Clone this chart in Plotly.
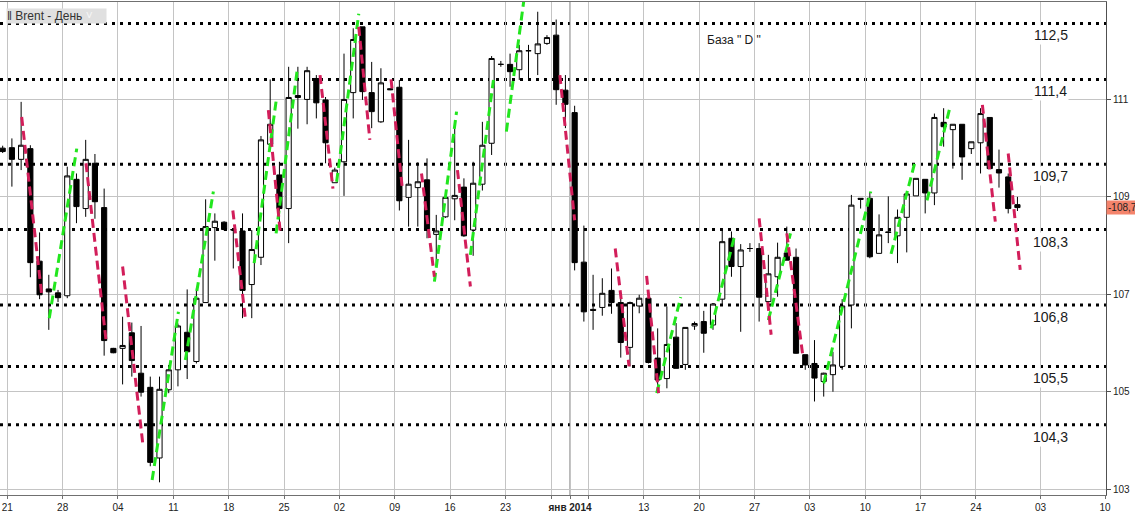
"""
Brent daily candlestick chart with projection segments and "D" base levels.
"""

import plotly.graph_objects as go

# --- data -------------------------------------------------------------------
# one bar per trading session (broker feed with short Sunday sessions)
OPEN = [
    110.00, 110.01, 109.77, 109.99, 107.68, 107.11, 107.03, 106.97, 109.36, 108.76,
    109.69, 108.78, 105.89, 105.89, 106.21, 105.38, 105.09, 103.64, 105.04, 105.45,
    106.22, 105.62, 106.83, 108.37, 108.48, 108.33, 108.30, 107.20, 107.76, 110.08,
    109.45, 108.76, 111.08, 111.00, 111.43, 110.99, 109.29, 109.72, 111.14, 112.49,
    111.14, 110.54, 111.22, 111.25, 108.99, 109.19, 109.35, 108.23, 108.59, 108.96,
    109.20, 108.32, 109.26, 110.10, 111.72, 111.72, 111.61, 112.00, 111.94, 112.15,
    112.32, 111.19, 110.73, 107.66, 106.69, 106.73, 107.08, 106.83, 105.91, 106.76,
    106.92, 105.69, 105.27, 106.12, 105.56, 106.35, 106.44, 106.37, 106.90, 108.15,
    107.57, 107.94, 107.94, 106.85, 107.36, 107.85, 107.76, 105.76, 105.58, 105.21,
    105.35, 105.52, 106.78, 108.97, 108.97, 107.84, 108.28, 108.20, 108.58, 109.02,
    109.36, 109.08, 110.53, 110.38, 110.49, 109.99, 110.11, 110.63, 109.56, 109.41,
    108.84,
]
HIGH = [
    110.05, 110.20, 110.95, 110.06, 108.27, 107.40, 107.09, 109.62, 109.48, 110.17,
    109.88, 109.17, 105.90, 106.54, 106.42, 106.35, 105.31, 105.31, 105.52, 106.40,
    107.10, 107.12, 108.95, 108.66, 108.50, 108.35, 108.66, 108.32, 110.25, 111.41,
    109.72, 111.67, 111.67, 111.67, 111.50, 111.05, 109.60, 111.94, 112.46, 112.49,
    111.77, 111.64, 111.23, 111.40, 110.17, 109.71, 109.79, 108.63, 109.00, 110.40,
    109.38, 109.72, 110.54, 111.89, 111.79, 111.94, 112.12, 112.12, 112.80, 112.32,
    112.64, 111.50, 110.87, 108.41, 107.40, 107.33, 107.53, 106.95, 106.85, 106.99,
    106.93, 106.30, 106.75, 106.41, 106.32, 106.44, 106.66, 106.82, 108.32, 108.29,
    108.03, 108.05, 108.05, 107.81, 108.06, 108.39, 107.94, 105.76, 106.06, 105.39,
    105.82, 106.90, 109.04, 108.97, 109.10, 108.64, 109.01, 108.74, 109.06, 109.38,
    109.36, 110.71, 110.82, 110.49, 110.49, 110.13, 110.82, 110.63, 109.97, 109.48,
    109.00,
]
LOW = [
    109.90, 109.21, 109.55, 107.35, 106.90, 106.27, 106.84, 106.92, 108.46, 108.59,
    108.55, 105.74, 105.79, 105.15, 105.31, 104.90, 103.47, 103.14, 104.97, 105.11,
    105.26, 105.58, 106.83, 107.69, 108.31, 107.53, 106.51, 106.51, 107.60, 110.08,
    108.32, 108.05, 110.40, 110.49, 110.61, 109.69, 109.29, 109.02, 110.61, 110.99,
    110.41, 110.52, 111.19, 108.72, 108.39, 108.39, 108.15, 107.60, 108.57, 108.52,
    108.18, 107.79, 109.13, 109.86, 111.67, 111.26, 111.40, 111.43, 111.50, 112.12,
    110.89, 110.41, 107.49, 106.44, 106.27, 106.56, 106.60, 105.70, 105.52, 106.61,
    105.58, 105.11, 105.07, 105.48, 105.45, 106.27, 105.80, 106.27, 106.78, 107.36,
    106.23, 107.87, 106.44, 106.80, 106.95, 107.70, 105.78, 105.45, 104.80, 104.90,
    105.00, 105.45, 106.30, 108.76, 107.74, 107.84, 108.05, 107.64, 107.86, 109.02,
    108.66, 108.83, 110.03, 109.58, 109.35, 109.88, 109.48, 109.58, 109.19, 108.66,
    108.71,
]
CLOSE = [
    109.93, 109.77, 110.06, 107.65, 106.99, 107.05, 106.93, 109.43, 108.80, 109.77,
    108.90, 106.05, 105.80, 105.95, 105.64, 104.99, 103.55, 105.05, 105.45, 106.35,
    105.82, 106.92, 108.39, 108.50, 108.33, 108.32, 107.08, 107.92, 110.17, 110.49,
    108.76, 111.04, 111.04, 111.59, 110.93, 110.11, 109.55, 111.00, 112.23, 111.16,
    110.75, 111.34, 111.20, 108.92, 109.26, 109.31, 108.32, 108.30, 108.99, 109.03,
    108.20, 109.28, 110.06, 111.84, 111.72, 111.57, 112.00, 112.00, 112.14, 112.27,
    111.20, 110.90, 107.65, 106.64, 106.67, 107.02, 106.83, 106.01, 106.83, 106.92,
    105.60, 105.24, 105.97, 105.48, 106.32, 106.40, 106.20, 106.80, 108.08, 107.57,
    107.91, 107.94, 106.94, 107.42, 107.76, 107.70, 105.79, 105.55, 105.28, 105.38,
    105.55, 106.76, 108.83, 108.95, 107.77, 108.22, 108.27, 108.58, 109.06, 109.38,
    109.08, 110.63, 110.44, 110.49, 109.82, 110.13, 110.71, 109.58, 109.49, 108.76,
    108.78,
]
LAST_PRICE = 108.78

# projection segments (bar index, price)
UP_X0 = [5.05, 16.2, 19.8, 27.26, 29.64, 36.2, 46.8, 50.7, 54.6, 70.9, 76.8, 83.0, 89.0, 96.3, 100.2]
UP_Y0 = [106.51, 103.19, 105.65, 107.64, 108.25, 109.31, 107.26, 107.81, 110.34, 104.97, 106.30, 106.47, 105.17, 107.83, 108.93]
UP_X1 = [8.03, 19.05, 22.84, 29.7, 31.95, 38.6, 49.2, 53.2, 56.5, 73.5, 79.3, 85.4, 94.1, 98.95, 102.7]
UP_Y1 = [109.99, 106.64, 109.11, 111.05, 111.64, 112.76, 110.75, 111.40, 113.04, 106.94, 108.17, 108.25, 109.11, 109.76, 110.85]

DN_X0 = [2.06, 9.03, 13.0, 24.95, 28.8, 34.4, 38.6, 42.1, 45.4, 49.3, 60.4, 66.4, 69.8, 82.0, 85.0, 106.2, 109.0]
DN_Y0 = [110.64, 109.69, 107.57, 108.72, 110.78, 111.50, 112.49, 111.41, 109.48, 109.55, 111.50, 107.94, 107.38, 108.56, 108.25, 110.89, 109.89]
DN_X1 = [4.23, 11.2, 15.2, 26.3, 30.1, 35.8, 39.8, 43.3, 46.8, 50.7, 62.0, 67.9, 71.1, 83.3, 86.7, 107.6, 110.3]
DN_Y1 = [106.99, 106.06, 103.91, 106.51, 108.25, 109.17, 110.17, 109.21, 107.36, 107.16, 108.52, 105.52, 104.97, 106.17, 105.79, 108.49, 107.50]

# "D" base levels (drawn position) and their printed labels
LEVELS = [112.56, 111.41, 109.67, 108.33, 106.78, 105.52, 104.32]
LEVEL_LABELS = ["112,5", "111,4", "109,7", "108,3", "106,8", "105,5", "104,3"]

# weekly grid (Mondays), year change, future weeks
TICK_POS = [0.5, 6.5, 12.5, 18.5, 24.5, 30.5, 36.5, 42.5, 48.5, 54.5, 59.5, 61.5,
            63.5, 69.5, 75.5, 81.5, 87.5, 93.5, 99.5, 105.5, 112.5, 119.5]
TICK_TEXT = ["21", "28", "04", "11", "18", "25", "02", "09", "16", "23", "", "<b>янв 2014</b>",
             "", "13", "20", "27", "03", "10", "17", "24", "03", "10"]
YEAR_BREAK = 61.5
PRICE_TICKS = [103, 105, 107, 109, 111]

X_RANGE = [-0.29, 119.6]
Y_RANGE = [102.88, 113.0]


def segments(x0, y0, x1, y1):
    xs, ys = [], []
    for a, b, c, d in zip(x0, y0, x1, y1):
        xs += [a, c, None]
        ys += [b, d, None]
    return xs, ys


bars = list(range(len(OPEN)))

fig = go.Figure()

fig.add_trace(go.Candlestick(
    x=bars, open=OPEN, high=HIGH, low=LOW, close=CLOSE,
    increasing={"fillcolor": "#ffffff", "line": {"color": "#000000", "width": 1}},
    decreasing={"fillcolor": "#000000", "line": {"color": "#000000", "width": 1}},
    whiskerwidth=0,
    showlegend=False,
))

ux, uy = segments(UP_X0, UP_Y0, UP_X1, UP_Y1)
fig.add_trace(go.Scatter(
    x=ux, y=uy, mode="lines", showlegend=False,
    line={"color": "#22e61e", "width": 3, "dash": "9px,5px"},
))
dx, dy = segments(DN_X0, DN_Y0, DN_X1, DN_Y1)
fig.add_trace(go.Scatter(
    x=dx, y=dy, mode="lines", showlegend=False,
    line={"color": "#d21e5a", "width": 3, "dash": "9px,5px"},
))

# dotted base levels with their labels (labels sit on a white box)
for lv, txt in zip(LEVELS, LEVEL_LABELS):
    fig.add_hline(y=lv, line={"color": "#000000", "width": 3, "dash": "3px,5px"}, layer="below")
    fig.add_annotation(
        x=113.6, y=lv, text=txt, showarrow=False, yshift=-12, bgcolor="#ffffff", borderpad=1,
        font={"family": "Liberation Sans, Arial", "size": 14, "color": "#1a1a1a"},
    )

fig.add_vline(x=YEAR_BREAK, line={"color": "#707070", "width": 1}, layer="below")

fig.add_annotation(
    xref="paper", yref="paper", x=0.664, y=0.923, xanchor="center", yanchor="middle",
    text='База " D "', showarrow=False,
    font={"family": "Liberation Sans, Arial", "size": 12, "color": "#1a1a1a"},
)
fig.add_annotation(
    xref="paper", yref="paper", x=0.0055, y=0.988, xanchor="left", yanchor="top",
    text="‖ Brent - День <span style='color:#f6f6f6'>˅</span>", showarrow=False,
    bgcolor="#e0e0e0", borderpad=0, width=99, height=14, align="left",
    font={"family": "Liberation Sans, Arial", "size": 12, "color": "#333333"},
)
fig.add_annotation(
    xref="paper", x=1.0, y=LAST_PRICE, xanchor="left", text=f"-{LAST_PRICE:.2f}".replace(".", ","),
    showarrow=False, bgcolor="#f4846c", borderpad=1,
    font={"family": "Liberation Sans, Arial", "size": 10, "color": "#222222"},
)

fig.update_layout(
    width=1135, height=514,
    margin={"l": 0, "r": 29, "t": 2, "b": 19},
    paper_bgcolor="#ffffff", plot_bgcolor="#ffffff",
    boxgap=0.2,
    font={"family": "Liberation Sans, Arial", "size": 10, "color": "#222222"},
    xaxis={
        "range": X_RANGE, "rangeslider": {"visible": False},
        "tickmode": "array", "tickvals": TICK_POS, "ticktext": TICK_TEXT,
        "tickfont": {"size": 10},
        "showgrid": True, "gridcolor": "#c4c4c4", "gridwidth": 1,
        "showline": True, "linecolor": "#707070", "mirror": True,
        "ticks": "outside", "ticklen": 3, "tickcolor": "#707070",
        "zeroline": False, "fixedrange": True,
    },
    yaxis={
        "range": Y_RANGE, "side": "right",
        "tickmode": "array", "tickvals": PRICE_TICKS,
        "tickfont": {"size": 10},
        "showgrid": True, "gridcolor": "#c4c4c4", "gridwidth": 1,
        "showline": True, "linecolor": "#505050", "mirror": True,
        "ticks": "outside", "ticklen": 4, "tickcolor": "#505050",
        "zeroline": False,
    },
)

# page body has a default margin that would push the fixed-size figure out of the window
fig.write_html(
    "out.html",
    config={"displayModeBar": False},
    post_script="document.body.style.margin='0';",
)
